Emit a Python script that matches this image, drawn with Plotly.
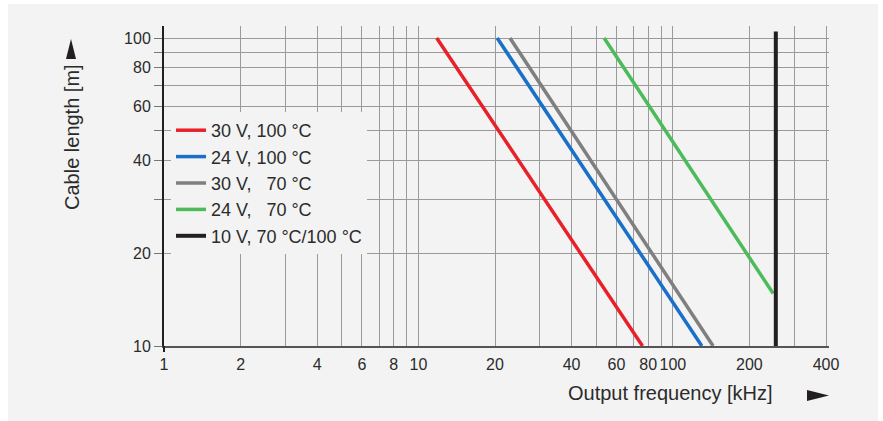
import plotly.graph_objects as go
import math

# ---- data ----
series_names = ["30 V,\u00a0100 °C", "24 V,\u00a0100 °C", "30 V,\u00a0\u00a0\u00a070 °C",
                "24 V,\u00a0\u00a0\u00a070 °C", "10 V,\u00a070 °C/100 °C"]
red_x = [11.8, 76]
red_y = [100, 10]
blue_x = [20.4, 130]
blue_y = [100, 10]
gray_x = [22.9, 144]
gray_y = [100, 10]
green_x = [53.7, 248]
green_y = [100, 14.8]
black_x = [254, 254]
black_y = [10, 105]
colors = ["#e8202a", "#1a6fc9", "#7f7f7f", "#4cbb5a", "#231f20"]

x_tickvals = [1, 2, 3, 4, 5, 6, 7, 8, 9, 10, 20, 30, 40, 50, 60, 70, 80, 90, 100, 200, 300, 400]
x_ticklabels = ["1", "2", "", "4", "", "6", "", "8", "", "10", "20", "", "40", "", "60", "", "80", "",
                "100", "200", "", "400"]
y_tickvals = [10, 20, 30, 40, 50, 60, 70, 80, 90, 100]
y_ticklabels = ["10", "20", "", "40", "", "60", "", "80", "", "100"]

# ---- layout geometry (pixels) ----
W, H = 883, 421
L, R, T, B = 164, 54, 26, 75
PW, PH = W - L - R, H - T - B
FONT = "Liberation Sans, Arial, sans-serif"
TXT = "#2b2b2b"
BG = "#f3f3f3"

def px(xp):
    return (xp - L) / PW

def py(yp):
    return (H - B - yp) / PH

fig = go.Figure()
for xs, ys, name, c, w in [
    (red_x, red_y, series_names[0], colors[0], 3.5),
    (blue_x, blue_y, series_names[1], colors[1], 3.5),
    (gray_x, gray_y, series_names[2], colors[2], 3.5),
    (green_x, green_y, series_names[3], colors[3], 3.5),
    (black_x, black_y, series_names[4], colors[4], 4),
]:
    fig.add_trace(go.Scatter(x=xs, y=ys, mode="lines", name=name,
                             line=dict(color=c, width=w)))

x_hi = math.log10(400) + 3 / 254.4
y_hi = 1 + PH / 308

fig.update_xaxes(type="log", range=[0, x_hi], tickvals=x_tickvals, ticktext=x_ticklabels,
                 showgrid=True, gridcolor="#9a9a9a", gridwidth=1.2,
                 showline=True, linecolor="#555555", linewidth=2,
                 ticks="outside", ticklen=3, tickcolor="rgba(0,0,0,0)",
                 tickfont=dict(family=FONT, size=16, color=TXT),
                 zeroline=False)
fig.update_yaxes(type="log", range=[1, y_hi], tickvals=y_tickvals, ticktext=y_ticklabels,
                 showgrid=True, gridcolor="#9a9a9a", gridwidth=1.2,
                 showline=True, linecolor="#231f20", linewidth=2,
                 ticks="outside", ticklen=8, tickcolor="#777777", tickwidth=1,
                 tickfont=dict(family=FONT, size=16, color=TXT),
                 zeroline=False)

shapes = [
    # panel background
    dict(type="rect", xref="paper", yref="paper", x0=px(8), x1=px(878), y0=py(4), y1=py(425),
         fillcolor=BG, line=dict(width=0), layer="below"),
    # y-axis arrow
    dict(type="path", xref="paper", yref="paper",
         path=f"M {px(66)} {py(59)} L {px(76)} {py(59)} L {px(71)} {py(39)} Z",
         fillcolor="#231f20", line=dict(width=0)),
    # x-axis arrow
    dict(type="path", xref="paper", yref="paper",
         path=f"M {px(807)} {py(390)} L {px(807)} {py(401)} L {px(829)} {py(395.5)} Z",
         fillcolor="#231f20", line=dict(width=0)),
    # small tick below the origin
    dict(type="line", xref="paper", yref="paper", x0=0, x1=0, y0=py(346), y1=py(352),
         line=dict(color="#231f20", width=2)),
]

annotations = [
    dict(text="Cable length [m]", xref="paper", yref="paper", x=px(72), y=py(137),
         textangle=-90, showarrow=False, xanchor="center", yanchor="middle",
         font=dict(family=FONT, size=20, color=TXT)),
    dict(text="Output frequency [kHz]", xref="paper", yref="paper", x=px(670), y=py(393),
         showarrow=False, xanchor="center", yanchor="middle",
         font=dict(family=FONT, size=20, color=TXT)),
]

fig.update_layout(
    width=W, height=H,
    margin=dict(l=L, r=R, t=T, b=B),
    paper_bgcolor="white", plot_bgcolor="rgba(0,0,0,0)",
    shapes=shapes, annotations=annotations,
    showlegend=True,
    legend=dict(x=px(171), y=py(112), xanchor="left", yanchor="top",
                bgcolor=BG, borderwidth=0,
                font=dict(family=FONT, size=18, color=TXT),
                itemwidth=30, tracegroupgap=0),
)

fig.write_html("out.html", config={"displayModeBar": False},
               post_script="document.body.style.margin='0';")
